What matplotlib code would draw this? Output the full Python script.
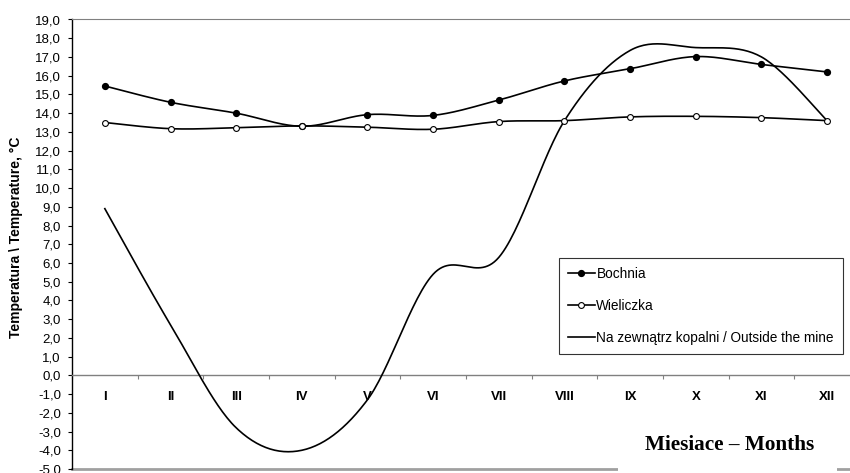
import numpy as np
import matplotlib
matplotlib.use('Agg')
import matplotlib.pyplot as plt
from matplotlib.patches import Rectangle
from matplotlib.ticker import FixedLocator, FuncFormatter

plt.rcParams['font.family'] = ['Liberation Sans', 'DejaVu Sans']

# ---- data ----
months = ['I', 'II', 'III', 'IV', 'V', 'VI', 'VII', 'VIII', 'IX', 'X', 'XI', 'XII']
bochnia = [15.45, 14.58, 14.0, 13.3, 13.92, 13.88, 14.7, 15.72, 16.37, 17.02, 16.6, 16.2]
wieliczka = [13.5, 13.17, 13.22, 13.32, 13.25, 13.14, 13.55, 13.6, 13.8, 13.83, 13.76, 13.6]
outside = [8.9, 2.7, -2.8, -4.0, -1.3, 5.4, 6.3, 13.6, 17.35, 17.5, 17.0, 13.6]

GRAY = '#808080'


def smooth(y, n=30):
    """Excel style smoothed line: cubic Bezier with Catmull-Rom control points."""
    y = np.asarray(y, dtype=float)
    x = np.arange(1, len(y) + 1, dtype=float)
    pts = np.column_stack([x, y])
    out = []
    for i in range(len(pts) - 1):
        p0 = pts[i - 1] if i > 0 else pts[i]
        p1, p2 = pts[i], pts[i + 1]
        p3 = pts[i + 2] if i + 2 < len(pts) else pts[i + 1]
        c1 = p1 + (p2 - p0) / 6
        c2 = p2 - (p3 - p1) / 6
        t = np.linspace(0, 1, n)[:, None]
        seg = ((1 - t) ** 3) * p1 + 3 * ((1 - t) ** 2) * t * c1 + 3 * (1 - t) * t ** 2 * c2 + t ** 3 * p2
        out.append(seg if i == 0 else seg[1:])
    seg = np.vstack(out)
    return seg[:, 0], seg[:, 1]


fig = plt.figure(figsize=(8.5, 4.73), dpi=100)
ax = fig.add_axes([72 / 850, 1 - 469 / 473, 788 / 850, 449.5 / 473])

x = np.arange(1, len(months) + 1)

xs, ys = smooth(bochnia)
ax.plot(xs, ys, color='black', lw=1.2, zorder=3)
ax.plot(x, bochnia, ls='none', marker='o', ms=4.2, mfc='black', mec='black', zorder=4)

xs, ys = smooth(wieliczka)
ax.plot(xs, ys, color='black', lw=1.2, zorder=3)
ax.plot(x, wieliczka, ls='none', marker='o', ms=4.2, mfc='white', mec='black', mew=0.8, zorder=4)

xs, ys = smooth(outside)
ax.plot(xs, ys, color='black', lw=1.2, zorder=3)

ax.set_xlim(0.5, 12.5)
ax.set_ylim(-5, 19)

# y axis
ax.yaxis.set_major_locator(FixedLocator(np.arange(-5, 20, 1)))
ax.yaxis.set_major_formatter(FuncFormatter(lambda v, p: f'{v:.1f}'.replace('.', ',')))
ax.tick_params(axis='y', direction='out', length=3, width=0.8, labelsize=9.5, pad=5, colors='black')
ax.set_ylabel('Temperatura \\ Temperature, °C', fontsize=10, fontweight='bold')
ax.yaxis.set_label_coords(-0.062, 0.515)

# x axis crossing at 0, ticks between categories, labels at category centres
ax.spines['bottom'].set_position(('data', 0))
ax.spines['bottom'].set_color(GRAY)
ax.spines['bottom'].set_linewidth(1.0)
ax.xaxis.set_major_locator(FixedLocator(np.arange(0.5, 13, 1)))
ax.xaxis.set_major_formatter(FuncFormatter(lambda v, p: ''))
ax.set_xticks(x, months, minor=True)
ax.tick_params(axis='x', which='major', direction='out', length=3, width=0.8, color=GRAY)
ax.tick_params(axis='x', which='minor', length=0, pad=11, labelsize=9.5)
for lab in ax.get_xticklabels(minor=True):
    lab.set_fontweight('bold')

ax.spines['left'].set_color('black')
ax.spines['left'].set_linewidth(1.0)
ax.spines['top'].set_color(GRAY)
ax.spines['right'].set_color(GRAY)
ax.axhline(-5, color='#a0a0a0', lw=2.0, zorder=1, clip_on=False)

# legend
h1, = ax.plot([], [], color='black', lw=1.2, marker='o', ms=4.2, mfc='black', mec='black')
h2, = ax.plot([], [], color='black', lw=1.2, marker='o', ms=4.2, mfc='white', mec='black', mew=0.8)
h3, = ax.plot([], [], color='black', lw=1.2)
leg = fig.legend([h1, h2, h3], ['Bochnia', 'Wieliczka', 'Na zewnątrz kopalni / Outside the mine'],
                 loc='upper left', bbox_to_anchor=(559 / 850, 1 - 258 / 473),
                 fontsize=9.8, frameon=True, fancybox=False, edgecolor='black',
                 handlelength=2.0, handletextpad=0.1, labelspacing=1.32,
                 borderpad=0.65, borderaxespad=0)
leg.get_frame().set_linewidth(0.8)

# axis title on a white patch that hides the bottom border
fig.patches.append(Rectangle((618 / 850, 0), 219 / 850, 53 / 473, transform=fig.transFigure,
                             facecolor='white', edgecolor='none', zorder=5))
fig.text(730 / 850, 1 - 445 / 473, 'Miesiace – Months', ha='center', va='center',
         fontsize=15.3, fontweight='bold', family='Liberation Serif', zorder=6)

fig.savefig('out.png', dpi=100, facecolor='white')
